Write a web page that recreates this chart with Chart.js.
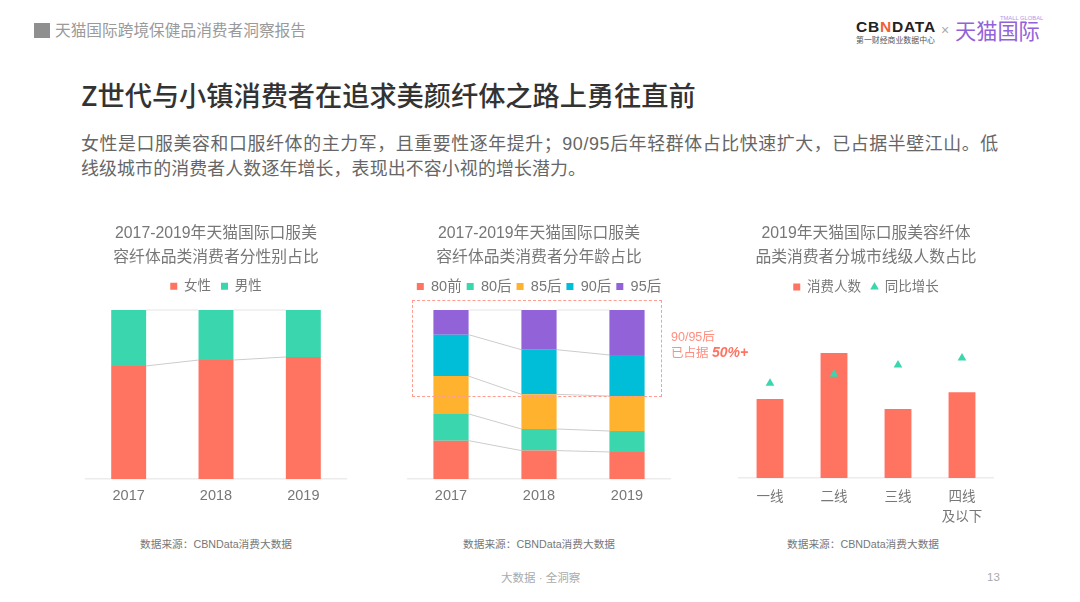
<!DOCTYPE html>
<html lang="zh-CN">
<head>
<meta charset="utf-8">
<title>Z世代与小镇消费者</title>
<script src="https://cdn.jsdelivr.net/npm/chart.js@4"></script>
<style>
    * { margin: 0; padding: 0; box-sizing: border-box; }
    html, body { width: 1080px; height: 602px; overflow: hidden; background: #fff; }
    body { position: relative; font-family: "Liberation Sans", "Noto Sans CJK SC", sans-serif; }
    .t { position: absolute; white-space: nowrap; }
    canvas { position: absolute; }
    .source { font-size: 10.7px; line-height: 14px; color: #777; }
</style>
</head>
<body>
<div class="t" style="left:34px;top:23px;width:16px;height:15px;background:#8f8f8f"></div>
<div class="t" style="left:55px;top:20px;font-size:15.7px;line-height:22px;color:#9a9a9a">天猫国际跨境保健品消费者洞察报告</div>

<!-- logos -->
<div class="t" style="left:856px;top:17px;font-size:15.5px;line-height:20px;font-weight:700;letter-spacing:0.8px;color:#222">CB<span style="color:#f0603c">N</span>DATA</div>
<div class="t" style="left:856px;top:36px;font-size:7.9px;line-height:10px;color:#555">第一财经商业数据中心</div>
<div class="t" style="left:941px;top:20px;font-size:14px;line-height:20px;color:#aaa">×</div>
<div class="t" style="left:955px;top:19px;font-size:21.2px;line-height:26px;color:#9263d8">天猫国际</div>
<div class="t" style="left:1000px;top:14px;font-size:5.8px;line-height:8px;color:#b596e6">TMALL GLOBAL</div>

<div class="t" style="left:81px;top:74px;font-family:'Noto Sans CJK SC';font-size:27.2px;line-height:40px;font-weight:500;color:#333">Z世代与小镇消费者在追求美颜纤体之路上勇往直前</div>
<div class="t" style="left:81px;top:131px;font-size:17.9px;line-height:26px;letter-spacing:0.62px;color:#666">女性是口服美容和口服纤体的主力军，且重要性逐年提升；90/95后年轻群体占比快速扩大，已占据半壁江山。低</div>
<div class="t" style="left:81px;top:156px;font-size:17.9px;line-height:26px;letter-spacing:0.15px;color:#666">线级城市的消费者人数逐年增长，表现出不容小视的增长潜力。</div>

<canvas id="genderChart" width="262" height="290" style="left:85px;top:222px"></canvas>
<canvas id="ageChart" width="264" height="290" style="left:407px;top:222px"></canvas>
<canvas id="cityChart" width="256" height="314" style="left:738px;top:222px"></canvas>

<!-- 90/95 highlight -->
<div class="t" style="left:412px;top:300px;width:250px;height:97px;border:1px dashed #ff9d90"></div>
<div class="t" style="left:671px;top:329px;font-size:12.5px;line-height:16px;color:#ff8e80">90/95后</div>
<div class="t" style="left:671px;top:344px;font-size:12.5px;line-height:16px;color:#ff8e80">已占据 <b style="font-style:italic;color:#ff7361;font-size:14px">50%+</b></div>

<div class="t source" style="left:140px;top:537px">数据来源：CBNData消费大数据</div>
<div class="t source" style="left:463px;top:537px">数据来源：CBNData消费大数据</div>
<div class="t source" style="left:787px;top:537px">数据来源：CBNData消费大数据</div>

<div class="t" style="left:501px;top:570px;font-size:11.5px;line-height:16px;color:#aaa">大数据 · 全洞察</div>
<div class="t" style="left:987px;top:569px;font-size:11.5px;line-height:16px;color:#aaa">13</div>

<script>
// --- DATA ---
const years = ['2017', '2018', '2019'];

const female = [66.9, 70.4, 72.2];
const male = [33.1, 29.6, 27.8];

const age80Before = [22.7, 16.8, 16.0];
const age80After = [15.8, 12.8, 12.4];
const age85After = [22.4, 20.5, 20.7];
const age90After = [24.5, 26.4, 24.3];
const age95After = [14.6, 23.5, 26.6];

const cityTiers = ['一线', '二线', '三线', ['四线', '及以下']];
const cityConsumers = [22.1, 35.0, 19.3, 24.0];
const cityGrowth = [26.5, 29.0, 31.6, 33.6];

const RED = '#ff7361', GREEN = '#3ad6ae', ORANGE = '#ffb22e', BLUE = '#00bed8', PURPLE = '#9263d8';
const FONT = '"Liberation Sans", "Noto Sans CJK SC", sans-serif';
const TEXT = '#777';

// Grey lines joining the tops of neighbouring stacked bars
const seriesLines = {
    id: 'seriesLines',
    beforeDatasetsDraw(chart) {
        const ctx = chart.ctx;
        ctx.save();
        ctx.lineWidth = 1;
        chart.data.datasets.forEach((ds, i) => {
            const bars = chart.getDatasetMeta(i).data;
            // top edge of the stack is much fainter
            ctx.strokeStyle = i === chart.data.datasets.length - 1 ? '#e4e4e4' : '#cccccc';
            for (let j = 0; j < bars.length - 1; j++) {
                ctx.beginPath();
                ctx.moveTo(bars[j].x + bars[j].width / 2, bars[j].y);
                ctx.lineTo(bars[j + 1].x - bars[j + 1].width / 2, bars[j + 1].y);
                ctx.stroke();
            }
        });
        ctx.restore();
    }
};

// Extra room under the legend, the padding option only goes on both sides
function legendGap(px) {
    return {
        id: 'legendGap',
        beforeInit(chart) {
            const fit = chart.legend.fit;
            chart.legend.fit = function () {
                fit.call(this);
                this.height += px;
            };
        }
    };
}

function sharedOptions(opts) {
    return {
        responsive: false,
        animation: false,
        devicePixelRatio: 1,
        layout: { padding: 0, autoPadding: false },
        plugins: {
            title: {
                display: true,
                text: opts.title,
                color: TEXT,
                font: { family: FONT, size: 15.8, weight: 'normal', lineHeight: 1.5 },
                padding: { top: 0, bottom: opts.titleGap }
            },
            legend: {
                position: 'top',
                labels: {
                    usePointStyle: true,
                    boxWidth: 7,
                    boxHeight: 7,
                    padding: opts.legendPadding,
                    color: TEXT,
                    font: { family: FONT, size: opts.legendSize },
                    sort: (a, b) => a.datasetIndex - b.datasetIndex
                }
            },
            tooltip: { enabled: false }
        },
        scales: {
            x: {
                stacked: opts.stacked,
                grid: { display: false, drawTicks: false },
                border: { color: '#ececec', width: 1.5 },
                ticks: {
                    color: TEXT,
                    padding: opts.tickPadding,
                    font: { family: FONT, size: opts.tickSize, lineHeight: opts.tickLine },
                    maxRotation: 0,
                    autoSkip: false
                }
            },
            y: { display: false, stacked: opts.stacked, min: 0, max: opts.yMax }
        }
    };
}

function barSet(label, data, color) {
    return { label: label, data: data, backgroundColor: color, pointStyle: 'rect', barPercentage: 0.4, categoryPercentage: 1, borderWidth: 0 };
}

new Chart(document.getElementById('genderChart'), {
    type: 'bar',
    data: {
        labels: years,
        datasets: [barSet('女性', female, RED), barSet('男性', male, GREEN)]
    },
    options: sharedOptions({
        title: ['2017-2019年天猫国际口服美', '容纤体品类消费者分性别占比'],
        titleGap: 0, legendPadding: 10, legendSize: 13.5,
        tickSize: 14.5, tickLine: 1.2, tickPadding: 7.8, stacked: true, yMax: 100
    }),
    plugins: [seriesLines, legendGap(7.1)]
});

new Chart(document.getElementById('ageChart'), {
    type: 'bar',
    data: {
        labels: years,
        datasets: [
            barSet('80前', age80Before, RED),
            barSet('80后', age80After, GREEN),
            barSet('85后', age85After, ORANGE),
            barSet('90后', age90After, BLUE),
            barSet('95后', age95After, PURPLE)
        ]
    },
    options: sharedOptions({
        title: ['2017-2019年天猫国际口服美', '容纤体品类消费者分年龄占比'],
        titleGap: 4.85, legendPadding: 5, legendSize: 14.5,
        tickSize: 14.5, tickLine: 1.2, tickPadding: 7.8, stacked: true, yMax: 100
    }),
    plugins: [seriesLines, legendGap(6.25)]
});

const consumerSet = barSet('消费人数', cityConsumers, RED);
consumerSet.barPercentage = 0.42;
consumerSet.order = 2;

new Chart(document.getElementById('cityChart'), {
    type: 'bar',
    data: {
        labels: cityTiers,
        datasets: [
            consumerSet,
            {
                type: 'line',
                label: '同比增长',
                data: cityGrowth,
                showLine: false,
                order: 1,
                pointStyle: 'triangle',
                pointRadius: 5,
                borderWidth: 0,
                pointBorderWidth: 0,
                backgroundColor: GREEN,
                borderColor: GREEN
            }
        ]
    },
    options: sharedOptions({
        title: ['2019年天猫国际口服美容纤体', '品类消费者分城市线级人数占比'],
        titleGap: 0.85, legendPadding: 10, legendSize: 13.5,
        tickSize: 13.5, tickLine: 1.48, tickPadding: 9, stacked: false, yMax: 47
    }),
    plugins: [legendGap(6.25)]
});
</script>
</body>
</html>
